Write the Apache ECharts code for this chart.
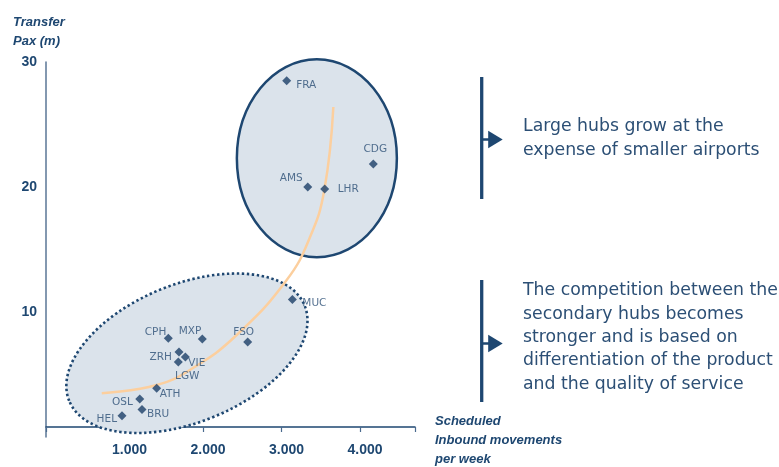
<!DOCTYPE html>
<html>
<head>
<meta charset="utf-8">
<script src="https://cdn.jsdelivr.net/npm/echarts@6/dist/echarts.min.js"></script>
<style>
  html, body { margin: 0; padding: 0; background: #ffffff; }
  #chart { width: 779px; height: 467px; }
</style>
</head>
<body>
<div id="chart"></div>
<script>
// Airports: scheduled inbound movements per week vs. transfer passengers (millions)
const airports = ['FRA', 'CDG', 'AMS', 'LHR', 'MUC', 'CPH', 'MXP', 'FSO', 'ZRH', 'VIE', 'LGW', 'ATH', 'OSL', 'BRU', 'HEL'];
const inboundMovements = [3066, 4169, 3334, 3550, 3138, 1558, 1991, 2569, 1694, 1775, 1685, 1410, 1194, 1223, 968];
const transferPax = [28.5, 21.85, 20.0, 19.85, 11.0, 7.9, 7.85, 7.6, 6.8, 6.4, 6.0, 3.9, 3.05, 2.2, 1.7];

// Hand-drawn growth trend through the hubs
const trendMovements = [710, 1410, 1873, 2429, 3066, 3363, 3545, 3660];
const trendPax = [3.5, 4.16, 5.52, 8.16, 12.56, 16.0, 19.76, 26.4];

// Axis tick labels
const xTickValues = [1000, 2000, 3000, 4000];
const yTickValues = [10, 20, 30];

// Cluster outlines (centres in data units)
const largeHubCentre = [3450, 22.3];
const secondaryHubCentre = [1795, 6.7];

const NAVY = '#1e4771';
const TEXT = '#2c4f75';
const FILL = '#dbe3eb';
const BODY_FONT = '"DejaVu Sans"';

// Label placement for each airport code
const labelPlacement = {
  FRA: { position: 'right', offset: [0, 5] },
  CDG: { position: 'top', offset: [2, 0] },
  AMS: { position: 'left', offset: [4.5, -9] },
  LHR: { position: 'right', offset: [3.5, 0] },
  MUC: { position: 'right', offset: [0.5, 3.5] },
  CPH: { position: 'left', offset: [7.5, -6] },
  MXP: { position: 'left', offset: [8.5, -8] },
  FSO: { position: 'top', offset: [-4, 5.5] },
  ZRH: { position: 'left', offset: [2.5, 5] },
  VIE: { position: 'right', offset: [-6.5, 6] },
  LGW: { position: 'bottom', offset: [9, -0.5] },
  ATH: { position: 'right', offset: [-6.5, 6] },
  OSL: { position: 'left', offset: [2.5, 3.5] },
  BRU: { position: 'right', offset: [-4.5, 5] },
  HEL: { position: 'left', offset: [4.5, 4] }
};

const fmtThousands = v => Math.floor(v / 1000) + '.' + String(v % 1000).padStart(3, '0');

const chart = echarts.init(document.getElementById('chart'), null, { renderer: 'canvas' });

const scatterData = airports.map((code, i) => ({
  name: code,
  value: [inboundMovements[i], transferPax[i]],
  label: Object.assign({ show: true, formatter: code }, labelPlacement[code])
}));

const option = {
  animation: false,
  backgroundColor: '#ffffff',
  grid: { left: 46, right: 364, top: 62, bottom: 30 },
  xAxis: {
    type: 'value',
    min: 0,
    max: 4700,
    interval: 1000,
    offset: -10,
    splitLine: { show: false },
    axisLine: { show: true, lineStyle: { color: NAVY, width: 1.5 } },
    axisTick: { show: true, length: 5, lineStyle: { color: '#4a6a8e', width: 1.2 } },
    axisLabel: {
      customValues: xTickValues,
      formatter: fmtThousands,
      color: NAVY,
      fontWeight: 'bold',
      fontSize: 14,
      fontFamily: 'Liberation Sans',
      margin: 16,
      padding: [0, 0, 0, 10]
    }
  },
  yAxis: {
    type: 'value',
    min: 0,
    max: 30,
    splitLine: { show: false },
    axisLine: { show: true, lineStyle: { color: '#5a7696', width: 1.5 } },
    axisTick: { show: false },
    axisLabel: {
      customValues: yTickValues,
      color: NAVY,
      fontWeight: 'bold',
      fontSize: 14,
      fontFamily: 'Liberation Sans',
      margin: 9
    }
  },
  series: [
    {
      type: 'line',
      data: trendMovements.map((x, i) => [x, trendPax[i]]),
      smooth: 0.45,
      showSymbol: false,
      silent: true,
      z: 3,
      lineStyle: { color: '#fccf9e', width: 2.5 }
    },
    {
      type: 'scatter',
      data: scatterData,
      symbol: 'diamond',
      symbolSize: 9,
      z: 5,
      itemStyle: { color: '#1b3f68' },
      label: {
        color: TEXT,
        fontSize: 10.5,
        fontFamily: 'DejaVu Sans',
        distance: 5
      }
    }
  ]
};

chart.setOption(option);

const big = chart.convertToPixel({ gridIndex: 0 }, largeHubCentre);
const small = chart.convertToPixel({ gridIndex: 0 }, secondaryHubCentre);

function bracket(x, y1, y2, arrowY) {
  return [
    { type: 'line', z: 10, shape: { x1: x, y1: y1, x2: x, y2: y2 }, style: { stroke: NAVY, lineWidth: 3.3 } },
    { type: 'line', z: 10, shape: { x1: x, y1: arrowY, x2: x + 8, y2: arrowY }, style: { stroke: NAVY, lineWidth: 2.5 } },
    { type: 'polygon', z: 10, shape: { points: [[x + 6.5, arrowY - 8.8], [x + 21, arrowY], [x + 6.5, arrowY + 8.8]] }, style: { fill: NAVY } }
  ];
}

chart.setOption({
  graphic: [
    {
      type: 'ellipse', z: 1, x: big[0], y: big[1],
      shape: { cx: 0, cy: 0, rx: 80, ry: 99 },
      style: { fill: FILL, stroke: NAVY, lineWidth: 2.5 }
    },
    {
      type: 'ellipse', z: 1, x: small[0], y: small[1], rotation: 22 * Math.PI / 180,
      shape: { cx: 0, cy: 0, rx: 127, ry: 69 },
      style: { fill: FILL, stroke: NAVY, lineWidth: 2.6, lineDash: [2.4, 2.6] }
    },
    {
      type: 'text', z: 10, left: 13, top: 12.5,
      style: { text: 'Transfer\nPax (m)', font: 'italic bold 13px "Liberation Sans"', fill: NAVY, lineHeight: 19 }
    },
    {
      type: 'text', z: 10, left: 435, top: 412,
      style: { text: 'Scheduled\nInbound movements\nper week', font: 'italic bold 13px "Liberation Sans"', fill: NAVY, lineHeight: 19 }
    },
    ...bracket(481.7, 77, 199, 139.5),
    ...bracket(481.7, 280, 402, 343.5),
    {
      type: 'text', z: 10, left: 523, top: 114.7,
      style: { text: 'Large hubs grow at the\nexpense of smaller airports', font: '17.3px ' + BODY_FONT, fill: TEXT, lineHeight: 24 }
    },
    {
      type: 'text', z: 10, left: 523, top: 279,
      style: {
        text: 'The competition between the\nsecondary hubs becomes\nstronger and is based on\ndifferentiation of the product\nand the quality of service',
        font: '17.3px ' + BODY_FONT, fill: TEXT, lineHeight: 23.4
      }
    }
  ]
});
</script>
</body>
</html>
